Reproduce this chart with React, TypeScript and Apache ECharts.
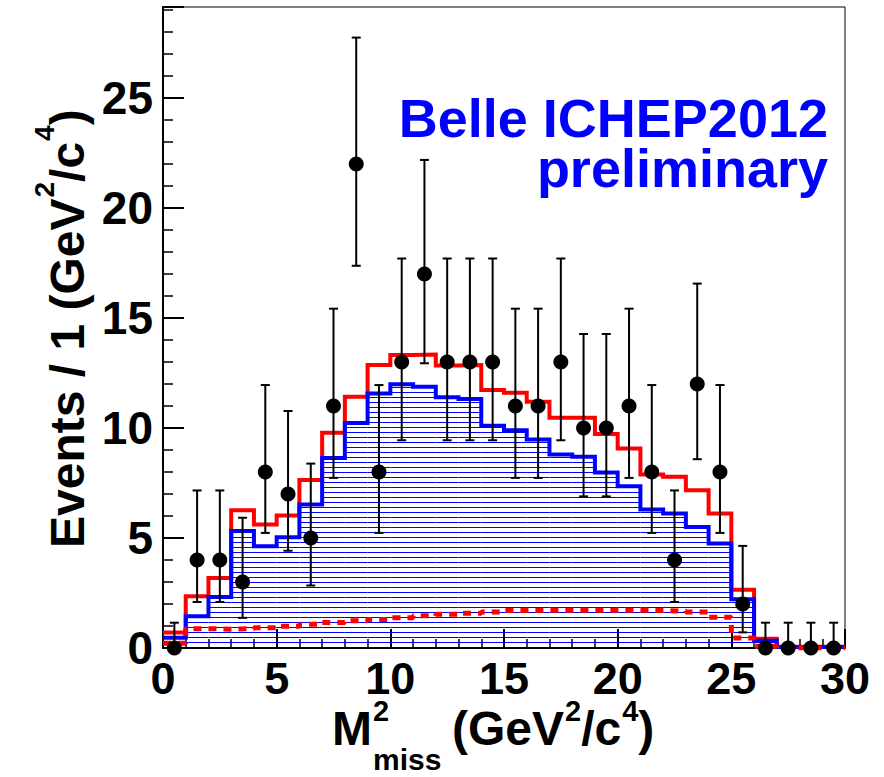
import React, { useEffect, useRef } from 'react';
import * as echarts from 'echarts';

// ---------------- data ----------------
const binLowEdges = [0, 1, 2, 3, 4, 5, 6, 7, 8, 9, 10, 11, 12, 13, 14, 15, 16, 17, 18, 19, 20, 21, 22, 23, 24, 25, 26, 27, 28, 29];
const binCenters = [0.5, 1.5, 2.5, 3.5, 4.5, 5.5, 6.5, 7.5, 8.5, 9.5, 10.5, 11.5, 12.5, 13.5, 14.5, 15.5, 16.5, 17.5, 18.5, 19.5, 20.5, 21.5, 22.5, 23.5, 24.5, 25.5, 26.5, 27.5, 28.5, 29.5];
const xMaxEdge = 30;

const dataCounts = [0, 4, 4, 3, 8, 7, 5, 11, 22, 8, 13, 17, 13, 13, 13, 11, 11, 13, 10, 10, 11, 8, 4, 12, 8, 2, 0, 0, 0, 0];
const errLow = [0, 2.09, 2.09, 1.37, 5.23, 4.42, 2.84, 7.73, 17.37, 5.23, 9.44, 12.94, 9.44, 9.44, 9.44, 7.73, 7.73, 9.44, 6.89, 6.89, 7.73, 5.23, 2.09, 8.58, 5.23, 0.71, 0, 0, 0, 0];
const errHigh = [1.15, 7.16, 7.16, 5.92, 11.95, 10.77, 8.38, 15.42, 27.74, 11.95, 17.7, 22.18, 17.7, 17.7, 17.7, 15.42, 15.42, 17.7, 14.27, 14.27, 15.42, 11.95, 7.16, 16.56, 11.95, 4.64, 1.15, 1.15, 1.15, 1.15];

const totalFit = [0.7, 2.35, 3.18, 6.26, 5.61, 6.02, 7.63, 9.78, 11.42, 12.86, 13.31, 13.34, 12.84, 12.86, 11.72, 11.6, 11.19, 10.46, 10.46, 9.72, 9.07, 7.89, 7.78, 7.17, 6.11, 2.65, 0.42, 0.06, 0.06, 0.06];
const background = [0.47, 1.44, 2.32, 5.32, 4.62, 5.03, 6.52, 8.64, 10.23, 11.57, 11.99, 11.87, 11.39, 11.32, 10.1, 9.9, 9.48, 8.79, 8.69, 7.98, 7.35, 6.29, 6.11, 5.5, 4.75, 2.21, 0.33, 0.05, 0.05, 0.05];
const signal = [0.22, 0.88, 0.85, 0.88, 0.92, 0.99, 1.08, 1.16, 1.24, 1.3, 1.38, 1.46, 1.53, 1.58, 1.64, 1.7, 1.72, 1.72, 1.72, 1.72, 1.72, 1.7, 1.68, 1.64, 1.4, 0.45, 0.08, 0, 0, 0];

const yMax = 29.13;
const xMin = 0;
const xMax = 30;

// ---------------- helpers ----------------
const FONT = '"Liberation Sans", Arial, Helvetica, sans-serif';
const CENTRAL = 0.3465; // offset from central baseline to alphabetic baseline (em)

function measure(text: string, size: number): number {
  const c = document.createElement('canvas').getContext('2d');
  if (!c) return text.length * size * 0.55;
  c.font = `bold ${size}px ${FONT}`;
  return c.measureText(text).width;
}

function txt(text: string, x: number, baseline: number, size: number, fill = '#000', align = 'left'): any {
  return {
    type: 'text',
    x,
    y: baseline - CENTRAL * size,
    z: 100,
    style: {
      text,
      fontSize: size,
      fontWeight: 'bold',
      fontFamily: FONT,
      fill,
      textAlign: align,
      verticalAlign: 'middle',
    },
  };
}

function stepData(vals: number[]): number[][] {
  const d = binLowEdges.map((x, i) => [x, vals[i]]);
  d.push([xMaxEdge, vals[vals.length - 1]]);
  return d;
}

const hatchRender = (params: any, api: any) => {
  const x0 = api.value(0);
  const x1 = api.value(1);
  const v = api.value(2);
  const pA = api.coord([x0, 0]);
  const pB = api.coord([x1, v]);
  const bottom = Math.round(pA[1]);
  const children: any[] = [];
  for (let k = 1; ; k++) {
    const y = bottom - 1 - 5 * k + 0.5;
    if (y <= pB[1] + 1) break;
    children.push({
      type: 'line',
      shape: { x1: pA[0], y1: y, x2: pB[0], y2: y },
      style: { stroke: '#0000ff', lineWidth: 1 },
    });
  }
  return { type: 'group', children };
};

const errRender = (params: any, api: any) => {
  const x = api.value(0);
  const top = api.coord([x, api.value(2)]);
  const bot = api.coord([x, api.value(1)]);
  const st = { stroke: '#000', lineWidth: 2 };
  const hw = 4.5;
  return {
    type: 'group',
    children: [
      { type: 'line', shape: { x1: top[0], y1: top[1], x2: bot[0], y2: bot[1] }, style: st },
      { type: 'line', shape: { x1: top[0] - hw, y1: top[1], x2: top[0] + hw, y2: top[1] }, style: st },
      { type: 'line', shape: { x1: bot[0] - hw, y1: bot[1], x2: bot[0] + hw, y2: bot[1] }, style: st },
    ],
  };
};

const labelFmt = (v: number) => (Math.abs(v % 5) < 1e-6 ? String(Math.round(v)) : '');

function buildGraphics(): any[] {
  const g: any[] = [];
  // Belle text
  g.push(txt('Belle ICHEP2012', 828, 136.7, 54, '#0000ff', 'right'));
  g.push(txt('preliminary', 828, 186.7, 54, '#0000ff', 'right'));

  // x-axis title
  const fx = 48;
  const fs = 29;
  const mX = 332;
  const base = 745;
  const supBase = 721;
  g.push(txt('M', mX, base, fx));
  const afterM = mX + measure('M', fx) + 1;
  g.push(txt('2', afterM, supBase, fs));
  g.push(txt('miss', afterM, 770, 30));
  let cx = 452;
  g.push(txt('(GeV', cx, base, fx));
  cx += measure('(GeV', fx) + 1;
  g.push(txt('2', cx, supBase, fs));
  cx += measure('2', fs);
  g.push(txt('/c', cx, base, fx));
  cx += measure('/c', fx) + 1;
  g.push(txt('4', cx, supBase, fs));
  cx += measure('4', fs);
  g.push(txt(')', cx, base, fx));

  // y-axis title (rotated group, local baseline y = 0)
  const fy = 48;
  const fsy = 28;
  const kids: any[] = [];
  let lx = 0;
  kids.push(txt('Events / 1 (GeV', lx, 0, fy));
  lx += measure('Events / 1 (GeV', fy) + 1;
  kids.push(txt('2', lx, -30, fsy));
  lx += measure('2', fsy);
  kids.push(txt('/c', lx, 0, fy));
  lx += measure('/c', fy) + 1;
  kids.push(txt('4', lx, -30, fsy));
  lx += measure('4', fsy);
  kids.push(txt(')', lx, 0, fy));
  g.push({ type: 'group', x: 84, y: 548, rotation: Math.PI / 2, children: kids, z: 100 });
  return g;
}

const axisLabelStyle = {
  fontSize: 46,
  fontWeight: 'bold',
  fontFamily: FONT,
  color: '#000',
};

export default function App() {
  const ref = useRef<HTMLDivElement>(null);

  useEffect(() => {
    document.body.style.margin = '0';
    if (!ref.current) return;
    const chart = echarts.init(ref.current, undefined, { renderer: 'svg' });
    const option: any = {
      animation: false,
      backgroundColor: '#fff',
      grid: {
        left: 163,
        top: 7,
        width: 682,
        height: 641,
        show: true,
        borderColor: '#000',
        borderWidth: 1,
        containLabel: false,
        outerBoundsMode: 'none',
      },
      xAxis: [
        {
          type: 'value',
          min: xMin,
          max: xMax,
          interval: 1,
          position: 'bottom',
          axisLine: { show: true, onZero: false, lineStyle: { color: '#000', width: 2 } },
          axisTick: { show: true, inside: true, length: 9, lineStyle: { color: '#000', width: 1.5 } },
          axisLabel: { ...axisLabelStyle, fontSize: 45, margin: 8, formatter: labelFmt, hideOverlap: false },
          splitLine: { show: false },
        },
        {
          type: 'value',
          min: xMin,
          max: xMax,
          interval: 5,
          position: 'bottom',
          axisLine: { show: false, onZero: false },
          axisTick: { show: true, inside: true, length: 19, lineStyle: { color: '#000', width: 2 } },
          axisLabel: { show: false },
          splitLine: { show: false },
        },
      ],
      yAxis: [
        {
          type: 'value',
          min: 0,
          max: yMax,
          interval: 1,
          position: 'left',
          axisLine: { show: true, onZero: false, lineStyle: { color: '#000', width: 2 } },
          axisTick: { show: true, inside: true, length: 10, lineStyle: { color: '#000', width: 1.5 } },
          axisLabel: { ...axisLabelStyle, margin: 10, formatter: labelFmt, hideOverlap: false },
          splitLine: { show: false },
        },
        {
          type: 'value',
          min: 0,
          max: yMax,
          interval: 5,
          position: 'left',
          axisLine: { show: false, onZero: false },
          axisTick: { show: true, inside: true, length: 21, lineStyle: { color: '#000', width: 2 } },
          axisLabel: { show: false },
          splitLine: { show: false },
        },
      ],
      series: [
        {
          type: 'custom',
          name: 'hatch',
          xAxisIndex: 0,
          yAxisIndex: 0,
          renderItem: hatchRender,
          data: binLowEdges.map((x, i) => [x, x + 1, background[i]]),
          silent: true,
          z: 1,
        },
        {
          type: 'line',
          name: 'total',
          step: 'end',
          xAxisIndex: 0,
          yAxisIndex: 0,
          data: stepData(totalFit),
          showSymbol: false,
          lineStyle: { color: '#ff0000', width: 4, join: 'miter' },
          silent: true,
          z: 2,
        },
        {
          type: 'line',
          name: 'background',
          step: 'end',
          xAxisIndex: 0,
          yAxisIndex: 0,
          data: stepData(background),
          showSymbol: false,
          lineStyle: { color: '#0000ff', width: 4, join: 'miter' },
          silent: true,
          z: 3,
        },
        {
          type: 'line',
          name: 'signal',
          step: 'end',
          xAxisIndex: 0,
          yAxisIndex: 0,
          data: stepData(signal),
          showSymbol: false,
          lineStyle: { color: '#ff0000', width: 5, type: [8, 7], cap: 'butt' },
          silent: true,
          z: 4,
        },
        {
          type: 'custom',
          name: 'errors',
          xAxisIndex: 0,
          yAxisIndex: 0,
          renderItem: errRender,
          data: binCenters.map((x, i) => [x, errLow[i], errHigh[i]]),
          silent: true,
          z: 5,
        },
        {
          type: 'scatter',
          name: 'data',
          xAxisIndex: 0,
          yAxisIndex: 0,
          data: binCenters.map((x, i) => [x, dataCounts[i]]),
          symbol: 'circle',
          symbolSize: 15,
          itemStyle: { color: '#000', opacity: 1 },
          silent: true,
          z: 6,
        },
      ],
      graphic: buildGraphics(),
    };
    chart.setOption(option);
    return () => {
      chart.dispose();
    };
  }, []);

  return <div ref={ref} style={{ width: 884, height: 777 }} />;
}
